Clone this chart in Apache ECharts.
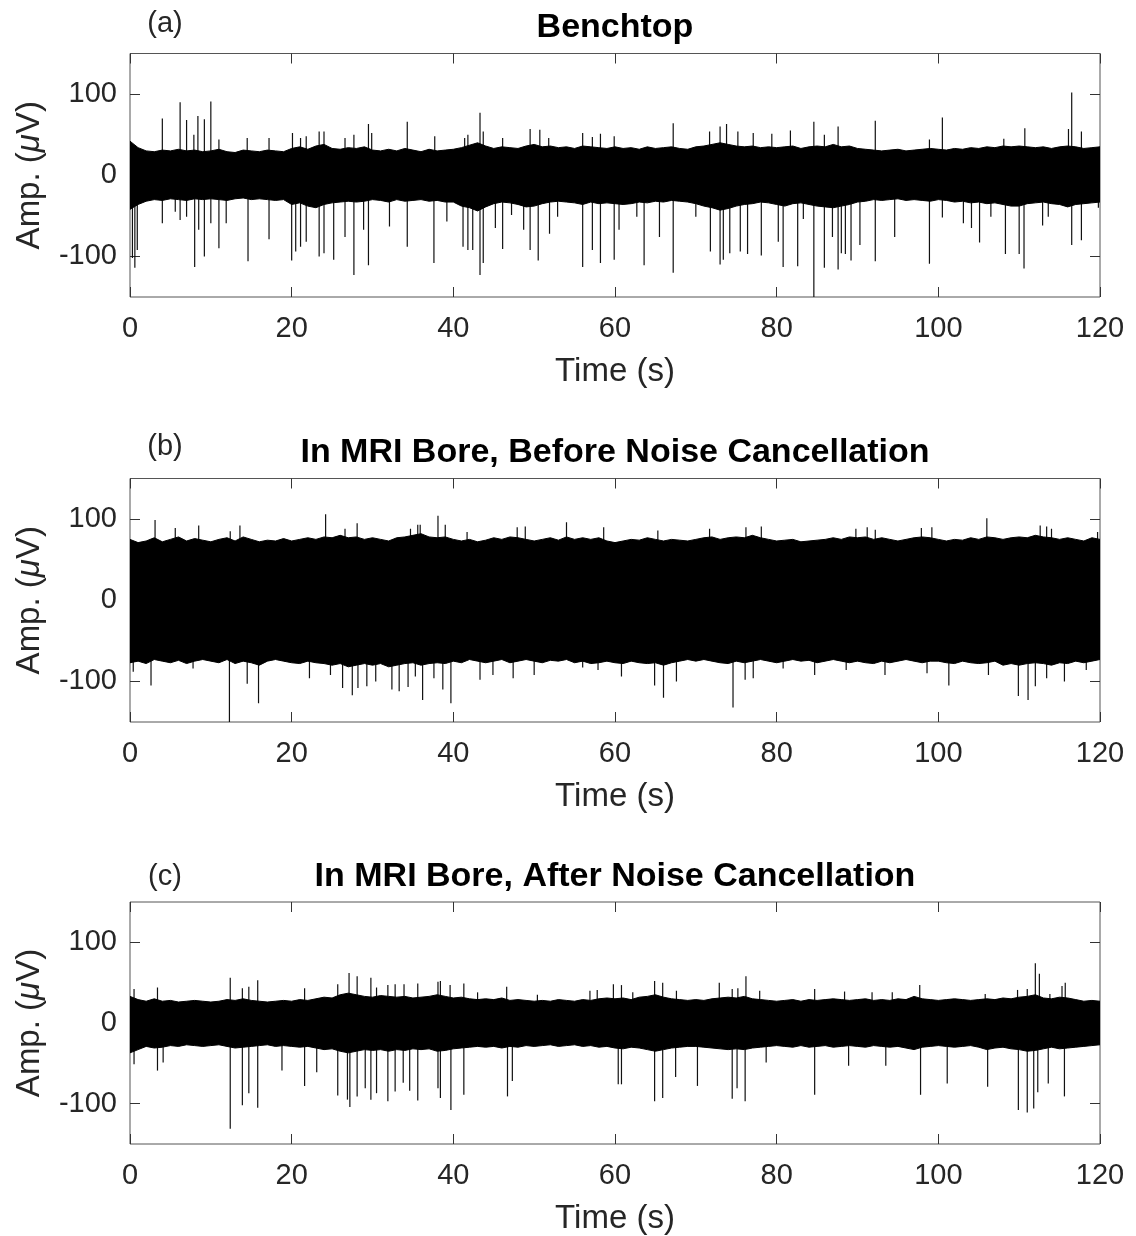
<!DOCTYPE html>
<html>
<head>
<meta charset="utf-8">
<script src="https://cdn.jsdelivr.net/npm/echarts@6/dist/echarts.min.js"></script>
<style>html,body{margin:0;padding:0;background:#fff}#c{width:1136px;height:1236px}</style>
</head>
<body>
<div id="c"></div>
<script>
// ---- data (µV), time in s ----
const timeTicks = [0, 20, 40, 60, 80, 100, 120];
const ampTicks = [-100, 0, 100];
const panelTitles = ['Benchtop', 'In MRI Bore, Before Noise Cancellation', 'In MRI Bore, After Noise Cancellation'];
const panelLabels = ['(a)', '(b)', '(c)'];

// Envelope of the dense noise band, one value per second (t = 0..120)
const upperA = [42,34,30,29,31,30,32,30,31,29, 30,32,29,28,31,30,29,31,30,29, 33,35,32,36,38,33,32,34,33,35, 31,30,32,30,33,31,29,32,30,31,
  32,34,37,40,36,33,35,34,33,36, 38,35,36,34,35,33,36,35,34,33, 35,33,34,32,35,33,34,35,33,32, 35,36,38,40,38,36,35,36,34,35,
  34,35,36,33,35,36,35,38,35,36, 33,32,31,30,31,32,30,31,32,33, 32,31,33,32,34,33,35,34,36,35, 36,35,34,35,33,35,36,35,33,34, 35];
const lowerA = [-42,-36,-32,-30,-31,-29,-30,-31,-29,-30, -29,-30,-31,-29,-28,-30,-29,-30,-31,-30, -36,-34,-38,-40,-36,-34,-33,-32,-33,-32, -30,-31,-33,-30,-32,-31,-30,-32,-31,-33,
  -33,-38,-40,-44,-39,-35,-33,-34,-36,-39, -38,-35,-33,-32,-33,-34,-36,-33,-35,-34, -35,-36,-35,-33,-34,-32,-33,-31,-32,-33, -35,-38,-40,-43,-41,-38,-36,-35,-33,-34,
  -36,-38,-35,-34,-36,-38,-39,-40,-38,-36, -33,-32,-30,-31,-30,-29,-31,-30,-31,-32, -30,-31,-33,-32,-34,-33,-35,-34,-36,-38, -38,-35,-34,-33,-35,-36,-39,-36,-35,-34, -33];
const upperB = [75,71,73,77,72,75,78,73,76,74, 72,75,77,73,78,75,72,74,73,76, 73,75,77,75,78,77,80,77,78,75, 77,75,73,77,78,80,82,78,77,78,
  75,73,75,72,74,77,75,78,77,75, 73,75,77,74,78,75,77,75,77,73, 71,73,75,74,77,75,73,75,74,73, 75,77,78,75,77,78,77,80,77,75,
  73,74,75,72,73,74,75,77,75,78, 77,78,75,77,75,73,75,77,78,77, 75,73,75,74,77,75,78,77,75,77, 78,77,80,78,77,75,77,75,73,77, 75];
const lowerB = [-77,-75,-78,-73,-75,-77,-74,-78,-75,-73, -75,-77,-73,-78,-75,-77,-80,-75,-73,-75, -77,-78,-75,-77,-78,-80,-78,-82,-80,-78, -80,-78,-82,-80,-78,-77,-80,-78,-77,-78,
  -75,-77,-73,-75,-77,-75,-73,-77,-75,-73, -75,-77,-74,-75,-73,-77,-75,-78,-77,-75, -77,-78,-75,-77,-78,-77,-80,-77,-75,-73, -75,-73,-75,-77,-78,-75,-77,-75,-73,-75,
  -77,-75,-73,-75,-74,-77,-75,-73,-75,-77, -75,-77,-78,-75,-77,-75,-73,-75,-77,-75, -75,-77,-78,-75,-77,-78,-77,-75,-80,-78, -80,-78,-77,-78,-80,-77,-78,-75,-77,-75, -73];
const upperC = [33,29,27,30,27,28,26,27,28,27, 26,27,29,28,30,28,27,26,27,28, 27,29,28,30,32,31,35,37,35,33, 32,34,33,32,33,31,32,33,35,33,
  31,32,30,29,30,29,31,28,29,28, 27,28,27,29,28,27,29,28,30,31, 30,31,29,32,33,35,32,30,29,28, 29,28,30,31,32,31,33,30,29,28,
  27,28,29,27,29,28,29,30,29,28, 29,30,28,29,28,30,29,33,30,29, 28,29,30,29,28,29,30,29,31,30, 32,33,35,31,30,32,31,29,27,28, 27];
const lowerC = [-37,-33,-29,-31,-30,-28,-29,-27,-28,-29, -28,-27,-29,-31,-30,-29,-28,-27,-29,-28, -29,-30,-29,-31,-33,-32,-35,-37,-35,-33, -34,-33,-35,-33,-34,-32,-33,-32,-35,-34,
  -32,-31,-30,-29,-30,-29,-31,-29,-30,-28, -29,-28,-27,-29,-28,-27,-29,-28,-30,-29, -31,-32,-30,-31,-33,-35,-33,-31,-30,-29, -29,-30,-31,-32,-33,-32,-33,-31,-30,-29,
  -28,-29,-30,-28,-30,-29,-28,-30,-29,-28, -29,-30,-28,-29,-30,-29,-31,-33,-30,-29, -28,-29,-30,-29,-28,-30,-33,-31,-30,-32, -33,-35,-34,-32,-30,-32,-31,-30,-29,-28, -27];

// Isolated spikes [time (s), amplitude (µV)]
const spikesA = [
  [4.0,70],[6.2,90],[7.0,68],[7.9,50],[8.4,73],[9.2,69],[10.0,91],[11.0,44],[14.5,46],[17.2,46],[20.1,52],[21.1,46],[21.8,48],[23.4,54],[24.0,54],
  [26.6,46],[27.7,50],[29.5,63],[29.9,52],[34.3,66],[37.7,48],[41.4,46],[41.8,50],[43.3,77],[43.7,54],[46.1,46],[49.5,57],[50.7,56],[51.8,46],
  [56.0,52],[57.2,47],[58.2,51],[59.9,48],[67.2,64],[71.7,54],[73.0,60],[73.8,63],[75.2,54],[77.1,52],[79.4,51],[81.7,55],[84.6,66],[85.9,50],
  [87.6,60],[92.2,67],[98.9,44],[100.5,71],[108.1,45],[110.7,58],[116.1,57],[116.5,102],[117.7,54],
  [0.3,-102],[0.6,-114],[0.9,-92],[4.0,-59],[5.6,-45],[6.2,-55],[7.0,-51],[8.0,-113],[8.5,-67],[9.2,-100],[10.0,-59],[11.0,-90],[11.9,-59],
  [14.6,-106],[17.2,-79],[20.0,-105],[20.5,-94],[21.1,-88],[21.8,-82],[23.4,-100],[24.0,-96],[25.2,-104],[26.6,-76],[27.7,-123],[28.9,-67],
  [29.5,-111],[32.1,-63],[34.3,-88],[37.6,-108],[39.2,-57],[41.2,-88],[41.8,-92],[42.4,-92],[43.3,-123],[43.7,-108],[45.2,-65],[46.1,-91],
  [47.2,-49],[48.7,-67],[49.5,-92],[50.5,-105],[51.9,-72],[52.9,-51],[56.0,-113],[57.2,-92],[58.2,-108],[59.9,-104],[60.5,-67],[62.7,-51],
  [63.6,-111],[65.5,-76],[67.2,-120],[70.0,-51],[71.8,-94],[73.0,-110],[73.4,-104],[74.2,-96],[75.5,-94],[76.4,-97],[78.1,-99],[80.2,-82],
  [80.8,-113],[82.6,-112],[83.3,-54],[84.6,-150],[85.9,-114],[86.9,-76],[87.6,-116],[88.0,-96],[88.5,-97],[89.2,-105],[90.3,-86],[92.2,-106],
  [94.6,-76],[98.9,-109],[100.5,-52],[103.1,-59],[104.1,-65],[105.1,-83],[106.5,-51],[108.3,-97],[110.0,-97],[110.6,-115],[112.9,-62],
  [113.6,-51],[116.5,-86],[117.7,-80],[119.8,-40]
];
const spikesB = [
  [3.1,99],[5.6,89],[8.5,92],[12.4,85],[13.6,92],[24.2,106],[26.6,88],[28.1,95],[34.7,88],[35.6,93],[35.9,93],[38.1,104],[39.0,93],[41.7,84],
  [47.9,90],[48.9,91],[54.0,96],[58.6,90],[65.3,86],[71.7,88],[76.2,90],[78.1,91],[89.8,88],[91.2,90],[92.2,87],[97.9,89],[99.2,90],[106.0,101],
  [112.6,92],[113.4,91],[114.0,88],[119.7,84],
  [0.4,-88],[2.6,-105],[7.8,-84],[12.3,-150],[14.5,-103],[15.9,-127],[22.2,-96],[24.8,-92],[26.3,-108],[27.5,-117],[28.2,-108],[29.3,-106],
  [30.4,-100],[32.4,-110],[33.3,-112],[34.4,-107],[35.3,-94],[36.2,-123],[37.6,-96],[38.7,-110],[39.7,-127],[43.3,-98],[44.9,-92],[47.4,-96],
  [50.0,-92],[56.0,-83],[57.9,-86],[60.8,-94],[64.9,-105],[66.0,-120],[67.6,-100],[74.6,-132],[76.1,-98],[77.1,-96],[80.8,-84],[84.7,-92],
  [88.6,-86],[93.4,-92],[98.6,-90],[101.3,-105],[106.2,-92],[109.9,-118],[111.1,-123],[112.0,-106],[113.4,-96],[115.6,-100],[118.3,-86]
];
const spikesC = [
  [0.5,42],[3.4,44],[12.4,56],[13.9,43],[14.7,45],[15.8,53],[21.6,43],[25.7,48],[27.1,62],[28.1,58],[29.8,56],[30.5,44],[31.9,47],[32.8,48],
  [33.9,48],[35.6,49],[38.1,51],[38.4,52],[39.6,47],[41.3,49],[43.0,38],[46.6,45],[50.4,35],[56.9,40],[57.8,41],[59.8,48],[60.8,47],[62.2,38],
  [64.9,52],[65.9,50],[67.6,40],[72.9,50],[74.5,42],[75.2,43],[76.2,58],[77.9,40],[84.7,42],[88.4,39],[91.8,38],[94.3,38],[97.7,47],[105.8,36],
  [109.8,41],[111.0,42],[112.0,74],[112.5,61],[113.8,36],[115.3,46],[115.7,50],
  [0.5,-51],[3.4,-59],[4.1,-49],[12.4,-131],[13.9,-102],[14.7,-87],[15.8,-105],[18.8,-59],[21.6,-78],[23.1,-61],[25.7,-90],[26.9,-95],[27.2,-104],
  [28.1,-91],[29.1,-81],[29.8,-95],[30.5,-87],[31.9,-97],[32.8,-85],[33.8,-74],[34.6,-84],[35.6,-96],[38.1,-81],[38.4,-93],[39.7,-108],[41.3,-89],
  [46.7,-91],[47.3,-72],[60.4,-76],[60.8,-76],[64.9,-97],[65.9,-93],[67.5,-67],[70.2,-78],[74.5,-94],[75.1,-81],[76.1,-97],[78.7,-49],[84.7,-89],
  [88.9,-53],[93.5,-53],[97.8,-89],[101.1,-75],[106.1,-79],[109.9,-108],[111.0,-111],[111.8,-106],[112.3,-86],[113.6,-75],[115.6,-91]
];

const panels = [
  {upper: upperA, lower: lowerA, spikes: spikesA},
  {upper: upperB, lower: lowerB, spikes: spikesB},
  {upper: upperC, lower: lowerC, spikes: spikesC}
];

// ---- layout ----
const FONT = '"Liberation Sans", Arial, Helvetica, sans-serif';
const TXT = '#262626';
const gridTops = [53.5, 478.5, 902];
const gridH = 243.5;
const gridLeft = 130, gridW = 970;

const chart = echarts.init(document.getElementById('c'), null, {renderer: 'canvas'});
const grids = [], xAxes = [], yAxes = [], series = [], graphics = [];

panels.forEach((p, k) => {
  grids.push({left: gridLeft, top: gridTops[k], width: gridW, height: gridH, show: true,
    borderColor: '#555', borderWidth: 1, backgroundColor: 'transparent'});
  const tick = () => ({show: true, inside: true, length: 10, lineStyle: {color: '#333', width: 1}});
  const line = {show: false, onZero: false};
  xAxes.push({type: 'value', gridIndex: k, min: 0, max: 120, interval: 20, position: 'bottom',
    axisLine: line, splitLine: {show: false}, axisTick: tick(),
    axisLabel: {color: TXT, fontSize: 29, fontFamily: FONT, margin: 17},
    name: 'Time (s)', nameLocation: 'middle', nameGap: 58,
    nameTextStyle: {color: TXT, fontSize: 33, fontFamily: FONT}});
  xAxes.push({type: 'value', gridIndex: k, min: 0, max: 120, interval: 20, position: 'top',
    axisLine: line, splitLine: {show: false}, axisTick: tick(), axisLabel: {show: false}});
  yAxes.push({type: 'value', gridIndex: k, min: -150, max: 150, position: 'left',
    axisLine: line, splitLine: {show: false},
    axisTick: Object.assign(tick(), {customValues: ampTicks}),
    axisLabel: {customValues: ampTicks, color: TXT, fontSize: 29, fontFamily: FONT, margin: 13, padding: [4, 0, 0, 0]},
    name: '{n|Amp. (}{m|μ}{n|V)}', nameLocation: 'middle', nameGap: 84,
    nameTextStyle: {rich: {n: {color: TXT, fontSize: 33, fontFamily: FONT}, m: {color: TXT, fontSize: 33, fontFamily: FONT, fontStyle: 'italic'}}}});
  yAxes.push({type: 'value', gridIndex: k, min: -150, max: 150, position: 'right',
    axisLine: line, splitLine: {show: false},
    axisTick: Object.assign(tick(), {customValues: ampTicks}),
    axisLabel: {show: true, customValues: ampTicks, formatter: () => '', color: 'rgba(0,0,0,0)'}});

  const xi = k * 2, yi = k * 2;
  // isolated spikes (drawn beneath the band)
  series.push({type: 'custom', xAxisIndex: xi, yAxisIndex: yi, data: p.spikes, clip: true, silent: true, animation: false, z: 1,
    encode: {x: 0, y: 1},
    renderItem: function (params, api) {
      const t = api.value(0), v = api.value(1);
      const a = api.coord([t, 0]), b = api.coord([t, v]);
      return {type: 'line', shape: {x1: a[0], y1: a[1], x2: b[0], y2: b[1]}, style: {stroke: '#111', lineWidth: 1.2}};
    }});
  // dense band: one polygon through the upper envelope and back along the lower envelope
  const bandRows = p.upper.map((u, i) => [i, u, p.lower[i]]);
  series.push({type: 'custom', xAxisIndex: xi, yAxisIndex: yi, data: bandRows, clip: true, silent: true, animation: false, z: 2,
    encode: {x: 0, y: [1, 2]},
    renderItem: function (params, api) {
      if (params.dataIndex !== 0) return null;
      const pts = [];
      for (let i = 0; i < p.upper.length; i++) pts.push(api.coord([i, p.upper[i]]));
      for (let i = p.lower.length - 1; i >= 0; i--) pts.push(api.coord([i, p.lower[i]]));
      return {type: 'polygon', shape: {points: pts}, style: {fill: '#000', stroke: '#000', lineWidth: 1}};
    }});

  const titleY = [28, 453, 877][k];
  graphics.push({type: 'text', x: 615, y: titleY, style: {text: panelTitles[k], fill: '#000', font: 'bold 34px ' + FONT, textAlign: 'center', textVerticalAlign: 'middle'}});
  const labY = [24, 447, 877][k];
  graphics.push({type: 'text', x: 165, y: labY, style: {text: panelLabels[k], fill: TXT, font: '29px ' + FONT, textAlign: 'center', textVerticalAlign: 'middle'}});
});

chart.setOption({
  backgroundColor: '#fff',
  animation: false,
  grid: grids, xAxis: xAxes, yAxis: yAxes, series: series, graphic: graphics
});
</script>
</body>
</html>
